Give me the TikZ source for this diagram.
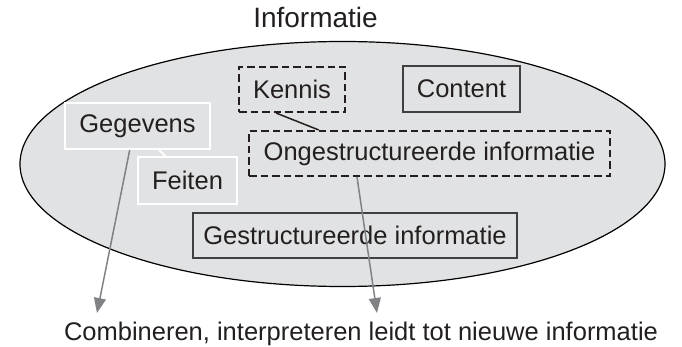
\documentclass[tikz,border=0pt]{standalone}
\usepackage{fontspec}
\setmainfont{Liberation Sans}
\usetikzlibrary{arrows.meta}
\definecolor{inkgray}{HTML}{231F20}
\definecolor{bubble}{HTML}{E1E2E3}
\definecolor{arrowgray}{HTML}{808285}

\begin{document}
\begin{tikzpicture}[x=1pt,y=-1pt,
  every node/.style={text=inkgray,font=\fontsize{25.5}{30}\selectfont},
  whitebox/.style={draw=white,line width=1.8pt,inner sep=0pt},
  dashbox/.style={draw=inkgray,line width=2.1pt,dash pattern=on 7.5pt off 4pt,inner sep=0pt},
  solidbox/.style={draw=black!75,line width=1.4pt,inner sep=0pt},
  pointer/.style={draw=arrowgray,line width=1.5pt,-{Triangle[width=12pt,length=15pt]}}]
\useasboundingbox (0,0) rectangle (682,347);
\fill[bubble] (342.5,164) ellipse [x radius=322.5,y radius=122.5];
\draw[black,line width=1.2pt] (342.5,164) ellipse [x radius=322.5,y radius=122.5];
\node[font=\fontsize{28}{32}\selectfont] (title) at (315.5,17) {Informatie};
% boxes inside the bubble
\node[whitebox,minimum width=145pt,minimum height=46pt] (gegevens) at (137.5,126) {Gegevens};
\node[whitebox,minimum width=99pt,minimum height=47pt] (feiten) at (187.5,180.5) {Feiten};
\node[dashbox,minimum width=106pt,minimum height=45pt] (kennis) at (292,89.5) {Kennis};
\node[solidbox,minimum width=117pt,minimum height=46pt] (content) at (461.5,89) {Content};
\node[dashbox,minimum width=361pt,minimum height=45pt] (ongestr) at (429.5,153.5) {Ongestructureerde informatie};
\node[solidbox,minimum width=324pt,minimum height=45pt] (gestr) at (355,235.5) {Gestructureerde informatie};
\node[anchor=base] (combi) at (361,340) {Combineren, interpreteren leidt tot nieuwe informatie};
% links
\draw[white,line width=1.8pt] (gegevens.-48.3) -- (feiten.132.5);
\draw[inkgray,line width=1.5pt] (kennis.-124) -- (ongestr.168);
\coordinate (leftend) at (97,313);
\coordinate (rightend) at (377,313);
\draw[pointer] (gegevens.-108) -- (leftend);
\draw[pointer] (ongestr.-162.5) -- (rightend);
\end{tikzpicture}
\end{document}
